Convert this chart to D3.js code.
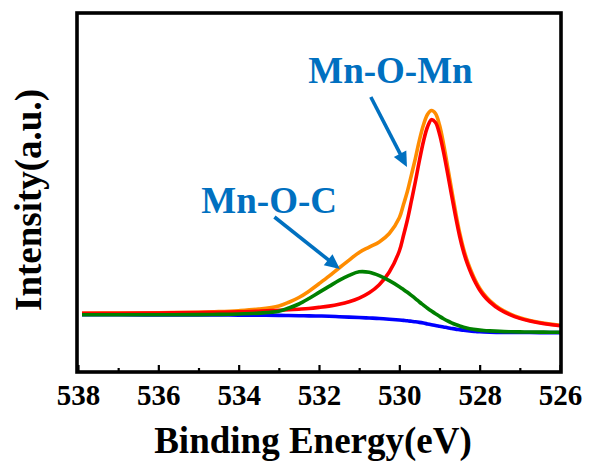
<!DOCTYPE html>
<html>
<head>
<meta charset="utf-8">
<script src="https://cdn.jsdelivr.net/npm/d3@7"></script>
<style>
  html, body { margin: 0; padding: 0; background: #fff; }
  svg { display: block; }
</style>
</head>
<body>
<svg id="chart" width="589" height="464"></svg>
<script>
// O 1s spectrum: binding energy (eV) and fitted components (a.u.)
const energy = [537.9, 537, 536, 535, 534.5, 534, 533.5, 533, 532.75, 532.5, 532.25, 532,
  531.75, 531.5, 531.25, 531, 530.75, 530.5, 530.25, 530, 529.9, 529.8, 529.7, 529.6,
  529.5, 529.4, 529.3, 529.2, 529.1, 529, 528.9, 528.8, 528.7, 528.6, 528.5, 528.4,
  528.3, 528.2, 528.1, 528, 527.9, 527.75, 527.5, 527.25, 527, 526.75, 526.5, 526.25, 526];

// Shirley background
const background = [57.2, 57.2, 57.1, 57.0, 56.95, 56.9, 56.8, 56.6, 56.45, 56.3, 56.15, 56.0,
  55.7, 55.3, 54.9, 54.5, 54.0, 53.5, 52.8, 52.0, 51.6, 51.2, 50.7, 50.2,
  49.6, 48.9, 48.1, 47.3, 46.5, 45.8, 45.1, 44.3, 43.6, 42.9, 42.3, 41.7,
  41.2, 40.8, 40.5, 40.2, 40.0, 39.8, 39.6, 39.55, 39.5, 39.45, 39.4, 39.4, 39.4];

// Mn-O-Mn component
const mnOMn = [58.7, 58.8, 59.0, 59.4, 59.7, 60.2, 60.8, 61.8, 62.2, 62.8, 63.5, 64.6,
  65.9, 67.7, 70.2, 73.9, 79.2, 87.3, 100.0, 121.0, 136.0, 152.0, 171.0, 190.5,
  211.5, 230.5, 245.0, 252.3, 249.5, 238.0, 220.0, 199.0, 177.0, 155.5, 136.0, 120.0,
  107.5, 97.5, 89.0, 82.0, 76.5, 70.1, 62.4, 57.3, 53.6, 51.0, 49.0, 47.5, 46.3];

// Mn-O-C component
const mnOC = [57.3, 57.3, 57.3, 57.4, 57.6, 58.0, 58.9, 60.8, 64.0, 68.0, 73.5, 79.6,
  85.6, 91.6, 96.6, 100.2, 99.7, 96.3, 91.3, 85.3, 82.6, 79.7, 76.6, 73.4,
  70.0, 66.9, 63.8, 60.9, 58.2, 55.7, 53.3, 51.1, 49.2, 47.5, 46.0, 44.8,
  43.8, 43.0, 42.4, 41.9, 41.5, 41.1, 40.6, 40.3, 40.1, 40.0, 39.9, 39.8, 39.8];

// Envelope
const envelope = [58.8, 58.9, 59.2, 59.8, 60.35, 61.3, 62.9, 66.0, 69.75, 74.5, 80.85, 88.2,
  95.8, 104.0, 111.9, 119.6, 124.9, 130.1, 138.5, 154.3, 167.0, 180.5, 196.9, 213.7,
  231.9, 247.0, 257.5, 261.5, 258.5, 247.0, 228.2, 205.8, 182.6, 160.1, 139.7, 123.1,
  110.1, 99.7, 90.9, 83.7, 78.0, 71.4, 63.4, 58.05, 54.2, 51.55, 49.5, 47.9, 46.7];

const majorTicks = [538, 536, 534, 532, 530, 528, 526];
const minorTicks = [537, 535, 533, 531, 529, 527];

// Peak annotations: label position and arrow (start -> tip), in data units
const noteText = ["Mn-O-Mn", "Mn-O-C"];
const noteE = [530.22, 533.24];
const noteI = [289, 158.7];
const arrowFromE = [530.71, 533.11];
const arrowFromI = [275, 155];
const arrowToE = [529.81, 531.48];
const arrowToI = [205, 103];

const serif = '"Liberation Serif", "Times New Roman", Times, serif';
const labelBlue = "#0070C0";

const svg = d3.select("#chart");
svg.append("rect").attr("width", 589).attr("height", 464).attr("fill", "#fff");

const frameLeft = 77, frameRight = 561, frameTop = 13, frameBottom = 372;

const x = d3.scaleLinear().domain([538, 526]).range([78, 560]);
const y = d3.scaleLinear().domain([0, 359]).range([frameBottom, frameTop]);

// Axis ticks point into the plot
const majorAxis = d3.axisBottom(x)
  .tickValues(majorTicks)
  .tickFormat(d3.format("d"))
  .tickSizeInner(-7)
  .tickSizeOuter(0)
  .tickPadding(12);

const minorAxis = d3.axisBottom(x)
  .tickValues(minorTicks)
  .tickFormat("")
  .tickSizeInner(-4)
  .tickSizeOuter(0);

const gMinor = svg.append("g").attr("transform", `translate(0,${frameBottom})`).call(minorAxis);
const gMajor = svg.append("g").attr("transform", `translate(0,${frameBottom})`).call(majorAxis);
[gMinor, gMajor].forEach(g => {
  g.attr("font-family", serif).attr("font-size", 29).attr("font-weight", "bold");
  g.select(".domain").remove();
  g.selectAll(".tick line").attr("stroke", "#000").attr("stroke-width", 2.2);
});
gMajor.selectAll(".tick text")
  .attr("fill", "#000")
  .style("font-family", serif)
  .style("font-weight", "bold")
  .style("font-size", "29px");

// Spectrum curves
const series = [
  { values: envelope, color: "#FF8C00" },
  { values: mnOMn, color: "#FF0000" },
  { values: background, color: "#0000FF" },
  { values: mnOC, color: "#008000" }
];

const line = d3.line()
  .x(d => x(d[0]))
  .y(d => y(d[1]))
  .curve(d3.curveCatmullRom.alpha(0.5));

const gCurves = svg.append("g");
series.forEach(s => {
  gCurves.append("path")
    .datum(energy.map((e, i) => [e, s.values[i]]))
    .attr("fill", "none")
    .attr("stroke", s.color)
    .attr("stroke-width", 3.6)
    .attr("stroke-linejoin", "round")
    .attr("d", line);
});

// Plot frame
svg.append("rect")
  .attr("x", frameLeft).attr("y", frameTop)
  .attr("width", frameRight - frameLeft).attr("height", frameBottom - frameTop)
  .attr("fill", "none")
  .attr("stroke", "#000")
  .attr("stroke-width", 3.6);

// Annotations with arrows
const gNotes = svg.append("g");
noteText.forEach((t, i) => {
  gNotes.append("text")
    .attr("x", x(noteE[i]))
    .attr("y", y(noteI[i]))
    .attr("text-anchor", "middle")
    .attr("fill", labelBlue)
    .style("font-family", serif)
    .style("font-weight", "bold")
    .style("font-size", "37px")
    .text(t);

  const x0 = x(arrowFromE[i]), y0 = y(arrowFromI[i]);
  const x1 = x(arrowToE[i]), y1 = y(arrowToI[i]);
  const ang = Math.atan2(y1 - y0, x1 - x0);
  const headLen = 15, headHalf = 7;
  const bx = x1 - headLen * Math.cos(ang), by = y1 - headLen * Math.sin(ang);
  gNotes.append("line")
    .attr("x1", x0).attr("y1", y0)
    .attr("x2", bx + 2 * Math.cos(ang)).attr("y2", by + 2 * Math.sin(ang))
    .attr("stroke", labelBlue)
    .attr("stroke-width", 3.6);
  const px = -Math.sin(ang), py = Math.cos(ang);
  gNotes.append("polygon")
    .attr("points", [
      [x1, y1],
      [bx + headHalf * px, by + headHalf * py],
      [bx - headHalf * px, by - headHalf * py]
    ].map(p => p.join(",")).join(" "))
    .attr("fill", labelBlue);
});

// Axis titles
svg.append("text")
  .attr("x", 313)
  .attr("y", 453)
  .attr("text-anchor", "middle")
  .attr("fill", "#000")
  .style("font-family", serif)
  .style("font-weight", "bold")
  .style("font-size", "37px")
  .text("Binding Energy(eV)");

svg.append("text")
  .attr("transform", "translate(41,200) rotate(-90)")
  .attr("text-anchor", "middle")
  .attr("fill", "#000")
  .style("font-family", serif)
  .style("font-weight", "bold")
  .style("font-size", "37px")
  .text("Intensity(a.u.)");
</script>
</body>
</html>
